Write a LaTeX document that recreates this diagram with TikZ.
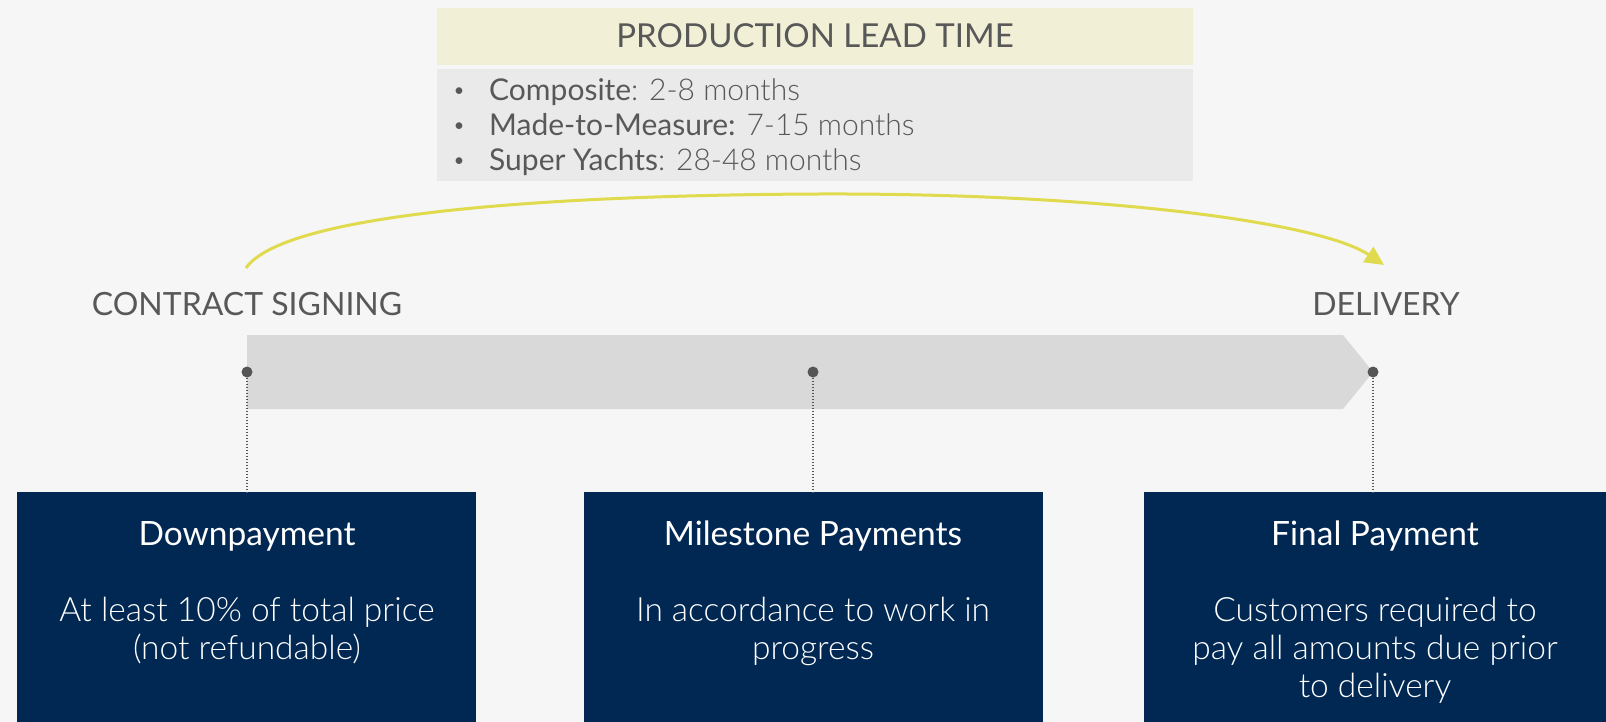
\documentclass[tikz,border=0pt]{standalone}
\usepackage{fontspec}
\usetikzlibrary{arrows.meta}
\setmainfont{Lato}
\newfontfamily\lightf{Lato Light}
\definecolor{bg}{HTML}{F6F6F6}
\definecolor{hdr}{HTML}{F1F0D7}
\definecolor{lst}{HTML}{EAEAEA}
\definecolor{bar}{HTML}{D9D9D9}
\definecolor{txt}{HTML}{585858}
\definecolor{navy}{HTML}{002852}
\definecolor{ylw}{HTML}{E0DB4E}
\definecolor{dotc}{HTML}{555555}
\begin{document}
\begin{tikzpicture}[x=1pt,y=-1pt,
  lbl/.style={inner sep=0pt,anchor=base,text=txt},
  boxn/.style={fill=navy,draw=none,minimum width=459pt,minimum height=230pt,anchor=north west,inner sep=0pt},
  btitle/.style={inner sep=0pt,anchor=base,text=white,font=\fontsize{33.5}{38}\selectfont},
  bbody/.style={inner sep=0pt,anchor=base,text=white,font=\lightf\fontsize{33.5}{38}\selectfont},
  pdot/.style={circle,fill=dotc,inner sep=0pt,minimum size=11pt},
  vdots/.style={dotc,line width=1.5pt,dash pattern=on 1.5pt off 1.5pt}]
\fill[bg] (0,0) rectangle (1606,722);
\useasboundingbox (0,0) rectangle (1606,722);
% header
\fill[hdr] (437,8) rectangle (1193,65);
\fill[lst] (437,69) rectangle (1193,181);
\node[lbl,font=\fontsize{33}{38}\selectfont] (title) at (815,48) {PRODUCTION LEAD TIME};
\foreach \y/\b/\r [count=\i] in {101/Composite/{: 2-8 months},136/Made-to-Measure:/{ 7-15 months},171/Super Yachts/{: 28-48 months}}{
  \node[lbl,font=\fontsize{18}{22}\selectfont] (bul\i) at (459,\y-4) {\textbullet};
  \node[lbl,anchor=base west,font=\fontsize{30}{34}\selectfont] (item\i) at (489,\y) {\b{\lightf\r}};
}
% gray timeline bar
\fill[bar] (247,335) -- (1343,335) -- (1373,372) -- (1343,409) -- (247,409) -- cycle;
% labels
\node[lbl,font=\fontsize{32}{38}\selectfont] (cs) at (247,315) {CONTRACT SIGNING};
\node[lbl,font=\fontsize{32}{38}\selectfont] (dl) at (1386,315) {DELIVERY};
% curve
\coordinate (cstart) at (246,268);
\coordinate (cmid) at (819,194);
\coordinate (cend) at (1384,265);
\draw[ylw,line width=3pt,-{Triangle[length=19pt,width=18pt]}] (cstart) .. controls (285,212) and (560,195) .. (cmid) .. controls (1100,193) and (1320,222) .. (cend);
% dots
\node[pdot] (d1) at (247,372) {};
\node[pdot] (d2) at (813,372) {};
\node[pdot] (d3) at (1373,372) {};
% boxes
\node[boxn] (b1) at (17,492) {};
\node[boxn] (b2) at (584,492) {};
\node[boxn,minimum width=462pt] (b3) at (1144,492) {};
\draw[vdots] (d1) -- (d1 |- b1.north);
\draw[vdots] (d2) -- (d2 |- b2.north);
\draw[vdots] (d3) -- (d3 |- b3.north);
% box texts
\node[btitle] (t1) at (247,545) {Downpayment};
\node[bbody] (p1a) at (247,621) {At least 10\% of total price};
\node[bbody] (p1b) at (247,659) {(not refundable)};
\node[btitle] (t2) at (813,545) {Milestone Payments};
\node[bbody] (p2a) at (813,621) {In accordance to work in};
\node[bbody] (p2b) at (813,659) {progress};
\node[btitle] (t3) at (1375,545) {Final Payment};
\node[bbody] (p3a) at (1375,621) {Customers required to};
\node[bbody] (p3b) at (1375,659) {pay all amounts due prior};
\node[bbody] (p3c) at (1375,697) {to delivery};
\end{tikzpicture}
\end{document}
